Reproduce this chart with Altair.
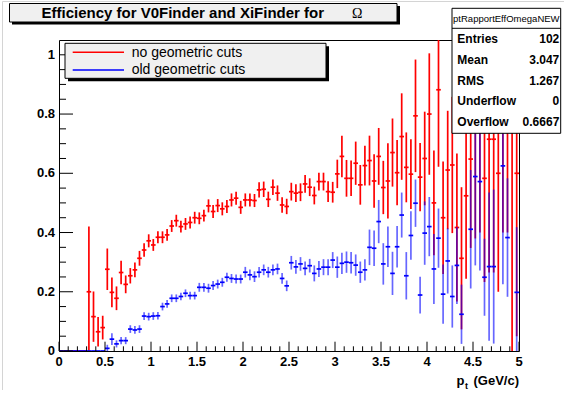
import altair as alt
import pandas as pd

FONT = "Liberation Sans"
W, H = 460, 311          # plot frame size in px
OX, OY = 59, 40          # plot frame origin on the page

# ---------------- data ----------------
pt_centers = [round(0.025 + 0.05 * i, 3) for i in range(100)]   # 100 bins of 0.05 GeV/c
bin_half = 0.025

red_val = [0, 0, 0, 0, 0, 0, 0.200, 0.116, 0.065, 0.079,
           0.276, 0.198, 0.178, 0.265, 0.225, 0.254, 0.274, 0.313, 0.341, 0.372,
           0.358, 0.384, 0.384, 0.392, 0.422, 0.440, 0.420, 0.429, 0.434, 0.450,
           0.448, 0.457, 0.490, 0.471, 0.491, 0.480, 0.488, 0.510, 0.516, 0.485,
           0.510, 0.510, 0.508, 0.544, 0.546, 0.512, 0.553, 0.533, 0.493, 0.488,
           0.538, 0.533, 0.536, 0.564, 0.553, 0.525, 0.572, 0.572, 0.538, 0.536,
           0.598, 0.657, 0.583, 0.583, 0.634, 0.561, 0.626, 0.643, 0.574, 0.657,
           0.552, 0.574, 0.670, 0.602, 0.724, 0.620, 0.597, 0.794, 0.587, 0.650,
           0.800, 0.500, 0.882, 0.450, 0.611, 0.628, 0.417, 0.313, 0.524, 0.648,
           0.780, 0.850, 0.583, 0.715, 0.715, 0.600, 0.900, 0.900, 1.000, 0.600]
red_err = [0, 0, 0, 0, 0, 0, 0.22, 0.085, 0.05, 0.04,
           0.07, 0.05, 0.04, 0.04, 0.03, 0.026, 0.025, 0.025, 0.023, 0.022,
           0.02, 0.02, 0.02, 0.02, 0.02, 0.02, 0.02, 0.02, 0.02, 0.02,
           0.02, 0.02, 0.022, 0.022, 0.022, 0.022, 0.022, 0.022, 0.022, 0.022,
           0.022, 0.022, 0.022, 0.026, 0.026, 0.026, 0.026, 0.026, 0.026, 0.026,
           0.03, 0.03, 0.03, 0.03, 0.03, 0.03, 0.03, 0.03, 0.035, 0.035,
           0.048, 0.07, 0.062, 0.06, 0.073, 0.067, 0.067, 0.084, 0.09, 0.096,
           0.09, 0.127, 0.115, 0.11, 0.146, 0.118, 0.118, 0.19, 0.115, 0.158,
           0.205, 0.177, 0.26, 0.19, 0.2, 0.23, 0.25, 0.24, 0.28, 0.30,
           0.40, 0.45, 0.35, 0.45, 0.45, 0.40, 0.50, 0.50, 1.00, 0.55]

blue_val = [0, 0, 0, 0, 0, 0, 0, 0, 0, 0,
            0.009, 0.040, 0.024, 0.035, 0.035, 0.074, 0.071, 0.074, 0.118, 0.116,
            0.118, 0.119, 0.150, 0.159, 0.178, 0.178, 0.184, 0.195, 0.187, 0.187,
            0.215, 0.215, 0.212, 0.221, 0.226, 0.232, 0.249, 0.245, 0.243, 0.243,
            0.266, 0.257, 0.251, 0.266, 0.274, 0.266, 0.274, 0.277, 0.245, 0.220,
            0.298, 0.284, 0.294, 0.279, 0.288, 0.262, 0.277, 0.283, 0.283, 0.307,
            0.283, 0.296, 0.300, 0.298, 0.290, 0.266, 0.274, 0.350, 0.347, 0.437,
            0.294, 0.352, 0.262, 0.352, 0.459, 0.254, 0.390, 0.499, 0.189, 0.398,
            0.420, 0.277, 0.381, 0.192, 0.304, 0.184, 0.289, 0.124, None, 0.411,
            0.589, 0.572, 0.249, 0.285, 0.285, None, 0.625, 0.383, None, 0.198]
blue_err = [0, 0, 0, 0, 0, 0, 0, 0, 0, 0,
            0.012, 0.02, 0.012, 0.012, 0.012, 0.013, 0.013, 0.013, 0.013, 0.013,
            0.013, 0.013, 0.013, 0.013, 0.013, 0.013, 0.013, 0.013, 0.013, 0.013,
            0.015, 0.015, 0.015, 0.015, 0.015, 0.015, 0.015, 0.015, 0.015, 0.015,
            0.018, 0.018, 0.018, 0.018, 0.018, 0.018, 0.018, 0.018, 0.018, 0.018,
            0.023, 0.023, 0.023, 0.023, 0.023, 0.027, 0.027, 0.027, 0.027, 0.027,
            0.036, 0.036, 0.036, 0.036, 0.036, 0.036, 0.036, 0.06, 0.06, 0.073,
            0.07, 0.068, 0.073, 0.07, 0.076, 0.08, 0.082, 0.08, 0.062, 0.107,
            0.1, 0.118, 0.1, 0.1, 0.11, 0.105, 0.13, 0.1, None, 0.2,
            0.3, 0.3, 0.13, 0.25, 0.26, None, 0.4, 0.2, None, 0.22]

x_major = [0, 0.5, 1, 1.5, 2, 2.5, 3, 3.5, 4, 4.5, 5]
x_labels = ["0", "0.5", "1", "1.5", "2", "2.5", "3", "3.5", "4", "4.5", "5"]
x_minor = [0.1, 0.2, 0.3, 0.4, 0.6, 0.7, 0.8, 0.9, 1.1, 1.2, 1.3, 1.4, 1.6, 1.7, 1.8, 1.9,
           2.1, 2.2, 2.3, 2.4, 2.6, 2.7, 2.8, 2.9, 3.1, 3.2, 3.3, 3.4, 3.6, 3.7, 3.8, 3.9,
           4.1, 4.2, 4.3, 4.4, 4.6, 4.7, 4.8, 4.9]
y_major = [0, 0.2, 0.4, 0.6, 0.8, 1.0]
y_labels = ["0", "0.2", "0.4", "0.6", "0.8", "1"]
y_minor = [0.05, 0.1, 0.15, 0.25, 0.3, 0.35, 0.45, 0.5, 0.55, 0.65, 0.7, 0.75, 0.85, 0.9, 0.95]

legend_labels = ["no geometric cuts", "old geometric cuts"]
stats_name = "ptRapportEffOmegaNEW"
stats_rows = [("Entries", "102"), ("Mean", "3.047"), ("RMS", "1.267"),
              ("Underflow", "0"), ("Overflow", "0.6667")]

# ---------------- tables ----------------
def series_table(vals, errs):
    rows = []
    for c, v, e in zip(pt_centers, vals, errs):
        if v is None:
            continue
        rows.append({"pt": c, "xlo": c - bin_half, "xhi": c + bin_half,
                     "val": v, "lo": v - e, "hi": v + e})
    return pd.DataFrame(rows)

red_df = series_table(red_val, red_err)
blue_df = series_table(blue_val, blue_err)

xs = alt.Scale(domain=[0, 5], nice=False, zero=False)
ys = alt.Scale(domain=[0, 1.05], nice=False, zero=False)

def err_layers(df, color, vop):
    vb = alt.Chart(df).mark_rule(color=color, strokeWidth=1.7, opacity=vop, clip=True).encode(
        x=alt.X("pt:Q", scale=xs, axis=None),
        y=alt.Y("lo:Q", scale=ys, axis=None), y2="hi:Q")
    hb = alt.Chart(df).mark_rule(color=color, strokeWidth=1.7, clip=True).encode(
        x=alt.X("xlo:Q", scale=xs, axis=None), x2="xhi:Q",
        y=alt.Y("val:Q", scale=ys, axis=None))
    return [vb, hb]

one = alt.Data(values=[{"k": 0}])

def rect(x1, y1, x2, y2, fill, stroke=None):
    kw = {"fill": fill}
    if stroke:
        kw.update(stroke=stroke, strokeWidth=1)
    return alt.Chart(one).mark_rect(**kw).encode(
        x=alt.value(x1 - OX), x2=alt.value(x2 - OX),
        y=alt.value(y1 - OY), y2=alt.value(y2 - OY))

def line(x1, y1, x2, y2, color, w=1):
    return alt.Chart(one).mark_rule(color=color, strokeWidth=w).encode(
        x=alt.value(x1 - OX), x2=alt.value(x2 - OX),
        y=alt.value(y1 - OY), y2=alt.value(y2 - OY))

def text(t, x, y, size, bold=False, align="left", baseline="alphabetic", font=FONT):
    return alt.Chart(one).mark_text(text=t, font=font, fontSize=size,
                                    fontWeight="bold" if bold else "normal",
                                    align=align, baseline=baseline, color="black").encode(
        x=alt.value(x - OX), y=alt.value(y - OY))

# ticks (ROOT style, inside the frame)
xmaj_df = pd.DataFrame({"v": x_major, "lab": x_labels})
xmin_df = pd.DataFrame({"v": x_minor})
ymaj_df = pd.DataFrame({"v": y_major, "lab": y_labels})
ymin_df = pd.DataFrame({"v": y_minor})

xt_major = alt.Chart(xmaj_df).mark_rule(color="black", strokeWidth=1).encode(
    x=alt.X("v:Q", scale=xs, axis=None), y=alt.value(H), y2=alt.value(H - 9.3))
xt_minor = alt.Chart(xmin_df).mark_rule(color="black", strokeWidth=1).encode(
    x=alt.X("v:Q", scale=xs, axis=None), y=alt.value(H), y2=alt.value(H - 4.7))
yt_major = alt.Chart(ymaj_df).mark_rule(color="black", strokeWidth=1).encode(
    y=alt.Y("v:Q", scale=ys, axis=None), x=alt.value(0), x2=alt.value(14))
yt_minor = alt.Chart(ymin_df).mark_rule(color="black", strokeWidth=1).encode(
    y=alt.Y("v:Q", scale=ys, axis=None), x=alt.value(0), x2=alt.value(7))
xlab = alt.Chart(xmaj_df).mark_text(font=FONT, fontSize=13, fontWeight="bold",
                                    align="center", baseline="alphabetic").encode(
    x=alt.X("v:Q", scale=xs, axis=None), y=alt.value(366 - OY), text="lab:N")
ylab = alt.Chart(ymaj_df).mark_text(font=FONT, fontSize=13, fontWeight="bold",
                                    align="right", baseline="middle").encode(
    y=alt.Y("v:Q", scale=ys, axis=None), x=alt.value(55 - OX), text="lab:N")

layers = []
# canvas border (light gray)
layers += [line(2.5, 1.5, 2.5, 390, "#d4d4d4"), line(2.5, 1.5, 564, 1.5, "#d4d4d4")]
# title box
layers += [rect(12, 6, 400, 24.5, "#000000"),
           rect(9.5, 3.5, 397, 22, "#f0f0f0", "black"),
           text("Efficiency for V0Finder and XiFinder for", 41.5, 18.3, 15, bold=True),
           text("\u03a9", 352, 18.3, 14, font="Liberation Serif")]
# data
layers += err_layers(red_df, "#ff0000", 1.0)
layers += err_layers(blue_df, "#0000ff", 0.6)
# ticks and labels
layers += [xt_major, xt_minor, yt_major, yt_minor, xlab, ylab]
# x axis title
layers += [text("p", 456.5, 385, 13, bold=True),
           text("t", 465, 389, 9, bold=True),
           text("(GeV/c)", 519, 385, 13, bold=True, align="right")]
# legend
layers += [rect(68, 46.3, 329, 81.3, "#000000"),
           rect(65, 43.3, 326, 78.3, "#f0f0f0", "black"),
           line(72.7, 52.3, 124, 52.3, "#ff0000", 1.5),
           line(72.7, 70, 124, 70, "#0000ff", 1.5),
           text(legend_labels[0], 131.7, 52.5, 14, baseline="middle"),
           text(legend_labels[1], 131.7, 70.2, 14, baseline="middle")]
# stats box
layers += [rect(452, 8.3, 560.7, 133.3, "white", "black"),
           line(452, 28.3, 560.7, 28.3, "black"),
           text(stats_name, 506.3, 18.5, 9.5, align="center", baseline="middle")]
for i, (lab, val) in enumerate(stats_rows):
    yy = 39.3 + 20.6 * i
    layers += [text(lab, 457.3, yy, 12, bold=True, baseline="middle"),
               text(val, 559.3, yy, 12, bold=True, align="right", baseline="middle")]

chart = alt.layer(*layers).properties(
    width=W, height=H,
    autosize=alt.AutoSizeParams(type="none"),
    padding={"left": OX, "top": OY, "right": 564 - OX - W, "bottom": 398 - OY - H},
    background="white",
).configure_view(stroke="black", strokeWidth=1)

chart.save("out.html", embed_options={"renderer": "svg", "actions": False})
